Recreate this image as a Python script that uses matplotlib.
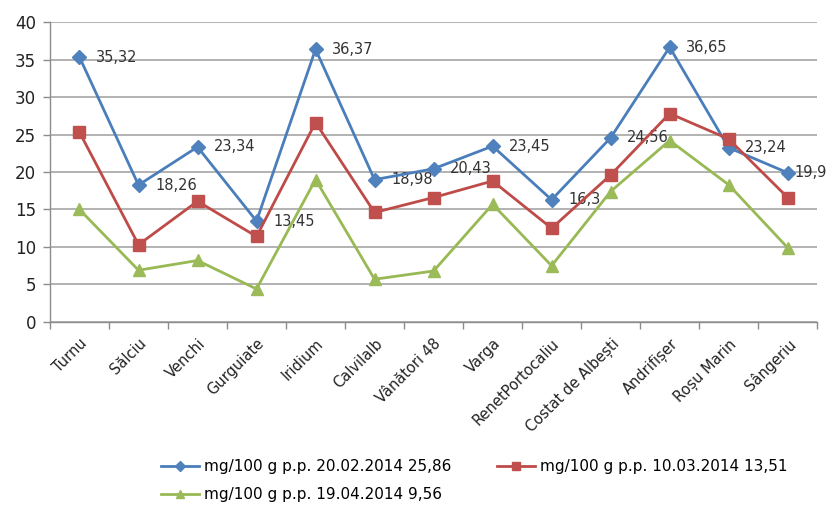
import numpy as np
import matplotlib.pyplot as plt

plt.rcParams['font.family'] = ['DejaVu Sans']

# cultivars on the x axis
soiuri = ['Turnu', 'Sălciu', 'Venchi', 'Gurguiate', 'Iridium', 'Calvilalb',
          'Vânători 48', 'Varga', 'RenetPortocaliu', 'Costat de Albești',
          'Andrifișer', 'Roșu Marin', 'Sângeriu']

# mg/100 g p.p. at the three sampling dates
feb = [35.32, 18.26, 23.34, 13.45, 36.37, 18.98, 20.43, 23.45, 16.3, 24.56,
       36.65, 23.24, 19.9]
mar = [25.3, 10.3, 16.1, 11.4, 26.6, 14.6, 16.6, 18.8, 12.5, 19.6, 27.8,
       24.4, 16.6]
apr = [15.0, 6.9, 8.2, 4.4, 19.0, 5.7, 6.8, 15.7, 7.5, 17.4, 24.2, 18.3, 9.9]

# labels written next to the first series
feb_labels = ['35,32', '18,26', '23,34', '13,45', '36,37', '18,98', '20,43',
              '23,45', '16,3', '24,56', '36,65', '23,24', '19,9']

legend_labels = ['mg/100 g p.p. 20.02.2014 25,86',
                 'mg/100 g p.p. 10.03.2014 13,51',
                 'mg/100 g p.p. 19.04.2014 9,56']

fig = plt.figure(figsize=(8.33, 5.05), dpi=100)
ax = fig.add_axes([0.060, 0.3624, 0.921, 0.594])

x = np.arange(len(soiuri))

l1, = ax.plot(x, feb, color='#4a7ebb', lw=2.0, marker='D', ms=7,
              mfc='#4f81bd', mec='#4f81bd', zorder=3)
l2, = ax.plot(x, mar, color='#be4b48', lw=2.0, marker='s', ms=8.5,
              mfc='#c0504d', mec='#c0504d', zorder=3)
l3, = ax.plot(x, apr, color='#98b954', lw=2.0, marker='^', ms=9,
              mfc='#9bbb59', mec='#9bbb59', zorder=3)

for i, (xi, v, t) in enumerate(zip(x, feb, feb_labels)):
    # last label pulled closer so it stays inside the figure
    dx = 5 if i == len(feb) - 1 else 12
    ax.annotate(t, (xi, v), xytext=(dx, 0), textcoords='offset points',
                ha='left', va='center', fontsize=10.5, color='#333333',
                zorder=2, annotation_clip=False)

ax.set_xlim(-0.5, len(soiuri) - 0.5)
ax.set_ylim(0, 40)
ax.set_yticks(np.arange(0, 41, 5))
ax.yaxis.grid(True, color='#a6a6a6', lw=1.2)
ax.set_axisbelow(True)

# category labels at the centres, tick marks at the boundaries
ax.set_xticks(x)
ax.set_xticklabels(soiuri, rotation=45, ha='right', va='top',
                   rotation_mode='anchor', fontsize=10.5, color='#222222')
ax.set_xticks(np.arange(-0.5, len(soiuri)), minor=True)
ax.tick_params(axis='x', which='major', length=0, pad=10)
ax.tick_params(axis='x', which='minor', length=5, color='#8c8c8c', width=1)
ax.tick_params(axis='y', length=5, color='#8c8c8c', width=1, labelsize=12,
               pad=5, labelcolor='#222222')

for s in ['top', 'right']:
    ax.spines[s].set_visible(False)
for s in ['left', 'bottom']:
    ax.spines[s].set_color('#8c8c8c')
    ax.spines[s].set_linewidth(1)

fig.legend([l1, l3, l2], [legend_labels[0], legend_labels[2], legend_labels[1]],
           ncol=2, loc='upper left', bbox_to_anchor=(0.193, 0.091),
           frameon=False, fontsize=11, handlelength=2.5, columnspacing=3.0,
           handletextpad=0.3, labelspacing=0.85, borderaxespad=0,
           borderpad=0, markerscale=0.7)

fig.savefig('out.png', dpi=100)
